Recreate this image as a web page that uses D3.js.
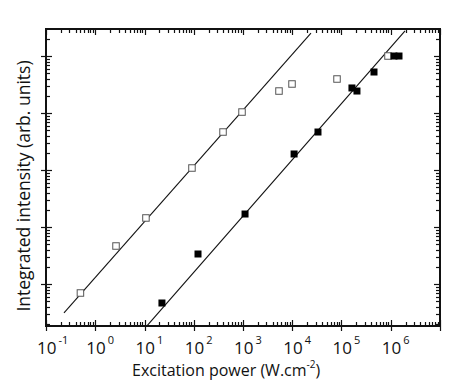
<!DOCTYPE html>
<html><head><meta charset="utf-8">
<script src="https://cdn.jsdelivr.net/npm/d3@7"></script>
<style>body{margin:0;background:#fff}svg{display:block}text{font-family:"Open Sans",sans-serif;fill:#111}</style>
</head><body><div id="c"></div>
<script>
// Data
const openX = [0.50, 2.64, 10.7, 92, 393, 955, 5380, 9890, 81100, 879000];
const openY = [6.95, 46.4, 144, 1084, 4640, 10400, 24300, 32300, 39500, 100000];
const fillX = [22.6, 122, 1100, 10900, 33300, 163000, 206000, 457000, 1.16e6, 1.47e6];
const fillY = [4.64, 33.6, 169, 1910, 4640, 27500, 24300, 52400, 100000, 100000];
const fitA = [[0.232, 3.10], [24000, 253000]];
const fitB = [[11.1, 1.83], [1.95e6, 2.75e5]];
const xTickExps = [-1, 0, 1, 2, 3, 4, 5, 6];
const xLabel = "Excitation power (W.cm";
const yLabel = "Integrated intensity (arb. units)";

const W = 464, H = 382;
const L = 46, R = 440, T = 29, B = 326;
const svg = d3.select("#c").append("svg").attr("width", W).attr("height", H);
const x = d3.scaleLog().domain([0.1, 1e7]).range([L, R]);
const y = d3.scaleLog().domain([Math.pow(10, 0.263), Math.pow(10, 5.474)]).range([B, T]);

const isMajor = v => Math.abs(Math.log10(v) - Math.round(Math.log10(v))) < 1e-9;
const xt = x.ticks(), yt = y.ticks();
const g = svg.append("g").attr("stroke", "#111").attr("fill", "none");
xt.forEach(v => {
  const px = Math.round(x(v)) + 0.5, m = isMajor(v);
  g.append("line").attr("x1", px).attr("x2", px).attr("y1", B + (m ? 5 : 0)).attr("y2", B - (m ? 6 : 4)).attr("stroke-width", 1.2);
  g.append("line").attr("x1", px).attr("x2", px).attr("y1", T).attr("y2", T + (m ? 6 : 4)).attr("stroke-width", 1.2);
});
yt.forEach(v => {
  const py = Math.round(y(v)) + 0.5, m = isMajor(v);
  g.append("line").attr("y1", py).attr("y2", py).attr("x1", L - (m ? 5 : 0)).attr("x2", L + (m ? 6 : 4)).attr("stroke-width", 1.2);
  g.append("line").attr("y1", py).attr("y2", py).attr("x1", R).attr("x2", R - (m ? 6 : 4)).attr("stroke-width", 1.2);
});
g.append("rect").attr("x", L).attr("y", T).attr("width", R - L).attr("height", B - T).attr("stroke-width", 2);

const line = d3.line().x(d => x(d[0])).y(d => y(d[1]));
[fitA, fitB].forEach(f => svg.append("path").attr("d", line(f)).attr("stroke", "#111").attr("stroke-width", 1.1).attr("fill", "none"));

const s = 6.5;
svg.append("g").selectAll("rect").data(openX.map((v, i) => [v, openY[i]])).join("rect")
  .attr("x", d => x(d[0]) - s / 2).attr("y", d => y(d[1]) - s / 2).attr("width", s).attr("height", s)
  .attr("fill", "#fff").attr("stroke", "#555").attr("stroke-width", 1);
const f = 7;
svg.append("g").selectAll("rect").data(fillX.map((v, i) => [v, fillY[i]])).join("rect")
  .attr("x", d => x(d[0]) - f / 2).attr("y", d => y(d[1]) - f / 2).attr("width", f).attr("height", f)
  .attr("fill", "#000");

xTickExps.forEach(e => {
  const t = svg.append("text").attr("x", x(Math.pow(10, e)) - 9).attr("y", 354).attr("font-size", 17);
  t.append("tspan").text("10");
  t.append("tspan").attr("dx", 2).attr("dy", -10).attr("font-size", 11).text(e);
});

const xl = svg.append("text").attr("x", 132).attr("y", 376).attr("font-size", 16);
xl.append("tspan").text(xLabel);
xl.append("tspan").attr("dx", 0).attr("dy", -8).attr("font-size", 10).text("-2");
xl.append("tspan").attr("dy", 8).text(")");
svg.append("text").attr("transform", "translate(30,186) rotate(-90)").attr("text-anchor", "middle")
  .attr("font-size", 17.5).text(yLabel);
</script></body></html>
